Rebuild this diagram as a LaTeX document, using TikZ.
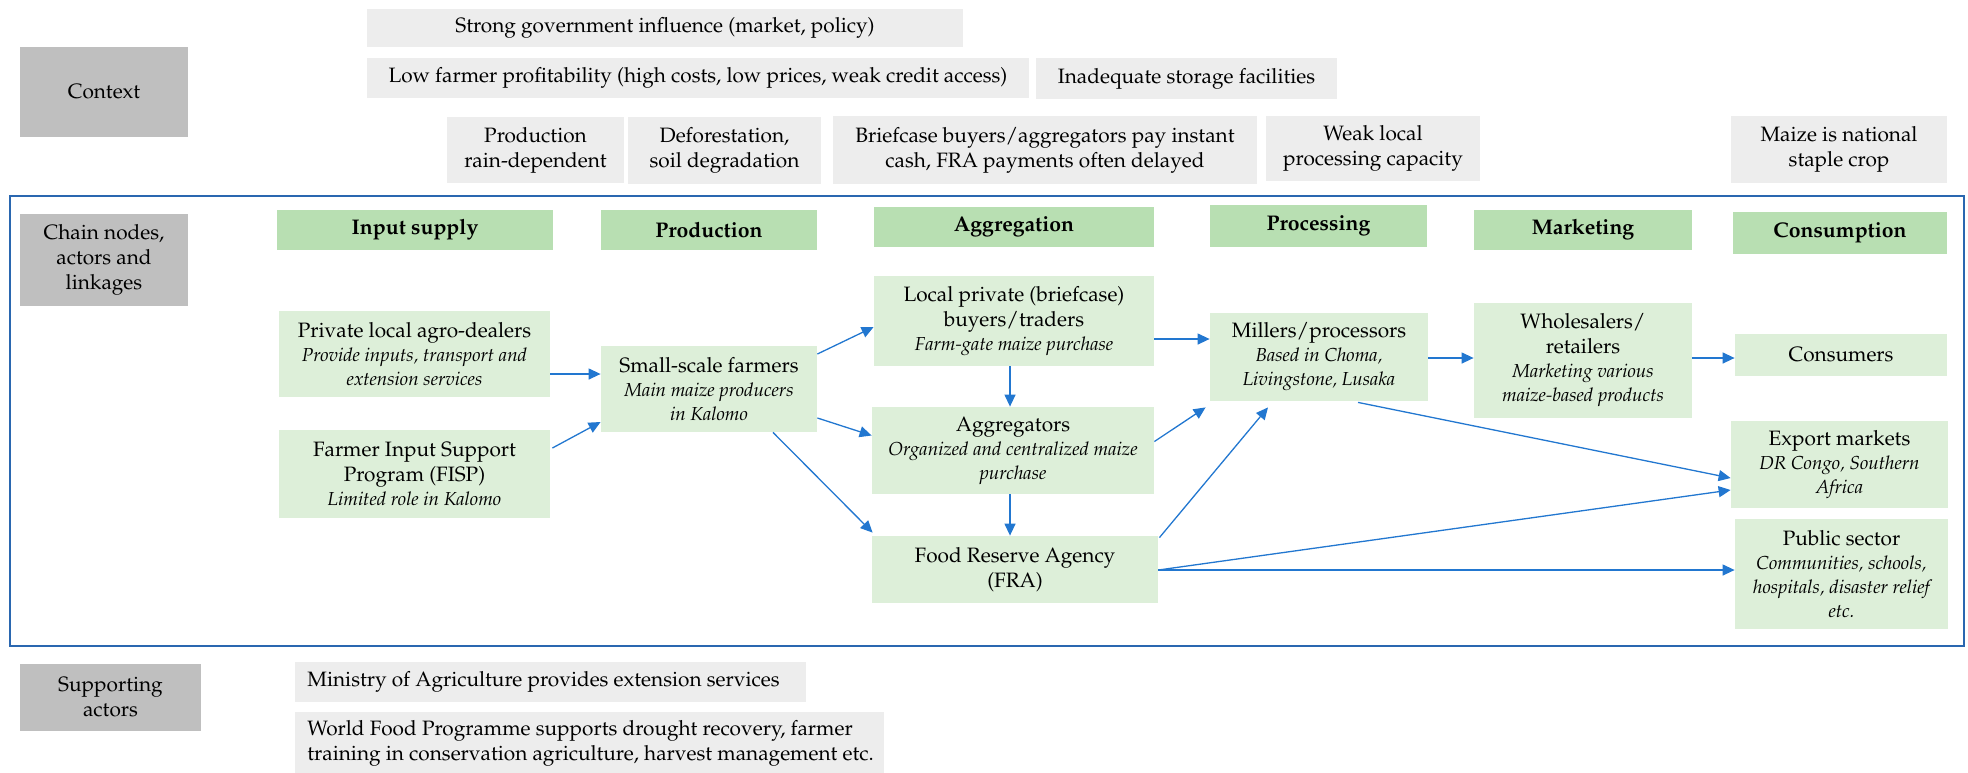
\documentclass[tikz,border=0pt]{standalone}
\usepackage[T1]{fontenc}
\usepackage{mathpazo}
\usetikzlibrary{arrows.meta,calc}

\definecolor{lightgrey}{HTML}{EDEDED}
\definecolor{labelgrey}{HTML}{BFBFBF}
\definecolor{headgreen}{HTML}{B8DFB2}
\definecolor{nodegreen}{HTML}{DDEFD9}
\definecolor{framebl}{HTML}{2A67B0}
\definecolor{arrowbl}{HTML}{2277D0}

\newcommand{\subtxt}[1]{{\fontsize{9.4}{11.5}\selectfont\itshape #1}}

\tikzset{
  every node/.style={font=\fontsize{10.4}{12.5}\selectfont, inner sep=0pt, align=center},
  labelbox/.style={fill=labelgrey},
  factorbox/.style={fill=lightgrey},
  leftbox/.style={fill=lightgrey, align=flush left},
  headbox/.style={fill=headgreen, font=\fontsize{10.6}{12.5}\selectfont\bfseries},
  actorbox/.style={fill=nodegreen},
  link/.style={draw=arrowbl, line width=0.65pt, -{Triangle[length=6pt,width=5.5pt]}},
}

\begin{document}
\begin{tikzpicture}[x=0.5pt, y=-0.5pt]
\useasboundingbox (0,0) rectangle (1968,772);

% ---- row labels
\node[labelbox, minimum width=84pt, minimum height=45pt] (ctx) at (104,92) {Context};
\node[labelbox, minimum width=84pt, minimum height=46pt] (chain) at (104,260) {Chain nodes,\\actors and\\linkages};
\node[labelbox, minimum width=90.5pt, minimum height=33.5pt] (supp) at (110.5,697.5) {Supporting\\actors};

% ---- context factors
\node[factorbox, minimum width=298pt, minimum height=19pt] (gov) at (665,28) {Strong government influence (market, policy)};
\node[factorbox, minimum width=331pt, minimum height=20pt] (profit) at (698,78) {Low farmer profitability (high costs, low prices, weak credit access)};
\node[factorbox, minimum width=150.5pt, minimum height=20.5pt] (storage) at (1186.5,78.5) {Inadequate storage facilities};
\node[factorbox, minimum width=88.5pt, minimum height=33pt] (rain) at (535.5,150) {Production\\rain-dependent};
\node[factorbox, minimum width=96.5pt, minimum height=33.5pt] (defor) at (724.5,150.5) {Deforestation,\\soil degradation};
\node[factorbox, minimum width=212pt, minimum height=34pt] (brief) at (1045,150) {Briefcase buyers/aggregators pay instant\\cash, FRA payments often delayed};
\node[factorbox, minimum width=107pt, minimum height=32.5pt] (weak) at (1373,148.5) {Weak local\\processing capacity};
\node[factorbox, minimum width=108pt, minimum height=33.5pt] (maize) at (1839,149.5) {Maize is national\\staple crop};

% ---- chain frame
\draw[framebl, line width=1pt] (10,196) rectangle (1964,646);

% ---- stage headers
\node[headbox, minimum width=138pt, minimum height=20pt] (hin) at (415,230) {Input supply};
\node[headbox, minimum width=108pt, minimum height=20pt] (hprod) at (709,230) {Production};
\node[headbox, minimum width=140pt, minimum height=20pt] (hagg) at (1014,227) {Aggregation};
\node[headbox, minimum width=108.5pt, minimum height=21pt] (hproc) at (1318.5,226) {Processing};
\node[headbox, minimum width=109pt, minimum height=20pt] (hmkt) at (1583,230) {Marketing};
\node[headbox, minimum width=107pt, minimum height=21pt] (hcons) at (1840,233) {Consumption};

% ---- chain actors
\node[actorbox, minimum width=135.5pt, minimum height=43pt] (agro) at (414.5,354)
  {Private local agro-dealers\\[-0.5pt]\subtxt{Provide inputs, transport and}\\[-0.5pt]\subtxt{extension services}};
\node[actorbox, minimum width=135.5pt, minimum height=44pt] (fisp) at (414.5,474)
  {Farmer Input Support\\Program (FISP)\\[-0.5pt]\subtxt{Limited role in Kalomo}};
\node[actorbox, minimum width=108pt, minimum height=43pt] (farm) at (709,389)
  {Small-scale farmers\\[-0.5pt]\subtxt{Main maize producers}\\[-0.5pt]\subtxt{in Kalomo}};
\node[actorbox, minimum width=140pt, minimum height=45pt] (local) at (1014,321)
  {Local private (briefcase)\\buyers/traders\\[-0.5pt]\subtxt{Farm-gate maize purchase}};
\node[actorbox, minimum width=141pt, minimum height=43.5pt] (aggr) at (1013,450.5)
  {Aggregators\\[-0.5pt]\subtxt{Organized and centralized maize}\\[-0.5pt]\subtxt{purchase}};
\node[actorbox, minimum width=143pt, minimum height=33.5pt] (fra) at (1015,569.5)
  {Food Reserve Agency\\(FRA)};
\node[actorbox, minimum width=109pt, minimum height=44pt] (mill) at (1319,357)
  {Millers/processors\\[-0.5pt]\subtxt{Based in Choma,}\\[-0.5pt]\subtxt{Livingstone, Lusaka}};
\node[actorbox, minimum width=109pt, minimum height=57.5pt] (whole) at (1583,360.5)
  {Wholesalers/\\retailers\\[-0.5pt]\subtxt{Marketing various}\\[-0.5pt]\subtxt{maize-based products}};
\node[actorbox, minimum width=106pt, minimum height=21pt] (cons) at (1841,355) {Consumers};
\node[actorbox, minimum width=108.5pt, minimum height=43.5pt] (export) at (1839.5,464.5)
  {Export markets\\[-0.5pt]\subtxt{DR Congo, Southern}\\[-0.5pt]\subtxt{Africa}};
\node[actorbox, minimum width=106.5pt, minimum height=55pt] (public) at (1841.5,574)
  {Public sector\\[-0.5pt]\subtxt{Communities, schools,}\\[-0.5pt]\subtxt{hospitals, disaster relief}\\[-0.5pt]\subtxt{etc.}};

% ---- supporting actors
\node[leftbox, anchor=west, text width=243.5pt, inner xsep=6pt, minimum height=20pt] (moa) at (295,682)
  {Ministry of Agriculture provides extension services};
\node[leftbox, anchor=north west, text width=282.5pt, inner xsep=6pt, minimum height=31pt] (wfp) at (295,712)
  {\mbox{World Food Programme supports drought recovery, farmer}\\\mbox{training in conservation agriculture, harvest management etc.}};

% ---- linkages
\draw[link] ($(agro.east)+(0,20)$) -- ($(farm.west)+(0,-15)$);
\draw[link] ($(fisp.east)+(2,-26)$) -- ($(farm.west)+(0,33)$);
\draw[link] ($(farm.east)+(0,-35)$) -- ($(local.west)+(0,6)$);
\draw[link] ($(farm.east)+(0,29)$) -- ($(aggr.west)+(0,-15)$);
\draw[link] ($(farm.south)+(64,0)$) -- ($(fra.north west)+(1,-3)$);
\draw[link] ($(local.south)+(-4,0)$) -- ($(aggr.north)+(-3,0)$);
\draw[link] ($(aggr.south)+(-3,0)$) -- ($(fra.north)+(-5,0)$);
\draw[link] ($(local.east)+(0,18)$) -- ($(mill.west)+(0,-18)$);
\draw[link] ($(aggr.east)+(0,-9)$) -- ($(mill.south west)+(-4,6)$);
\draw[link] ($(fra.north east)+(1,2)$) -- ($(mill.south)+(-51,6)$);
\draw[link] ($(mill.east)+(0,1)$) -- ($(whole.west)+(0,-2.5)$);
\draw[link] ($(whole.east)+(0,-2.5)$) -- ($(cons.west)+(0,3)$);
\draw[link] ($(mill.south)+(39,1)$) -- ($(export.west)+(0,13.5)$);
\draw[link] ($(fra.east)+(0,0.5)$) -- ($(export.west)+(0,25.5)$);
\draw[link] ($(fra.east)+(0,0.5)$) -- ($(public.west)+(0,-4)$);
\end{tikzpicture}
\end{document}
